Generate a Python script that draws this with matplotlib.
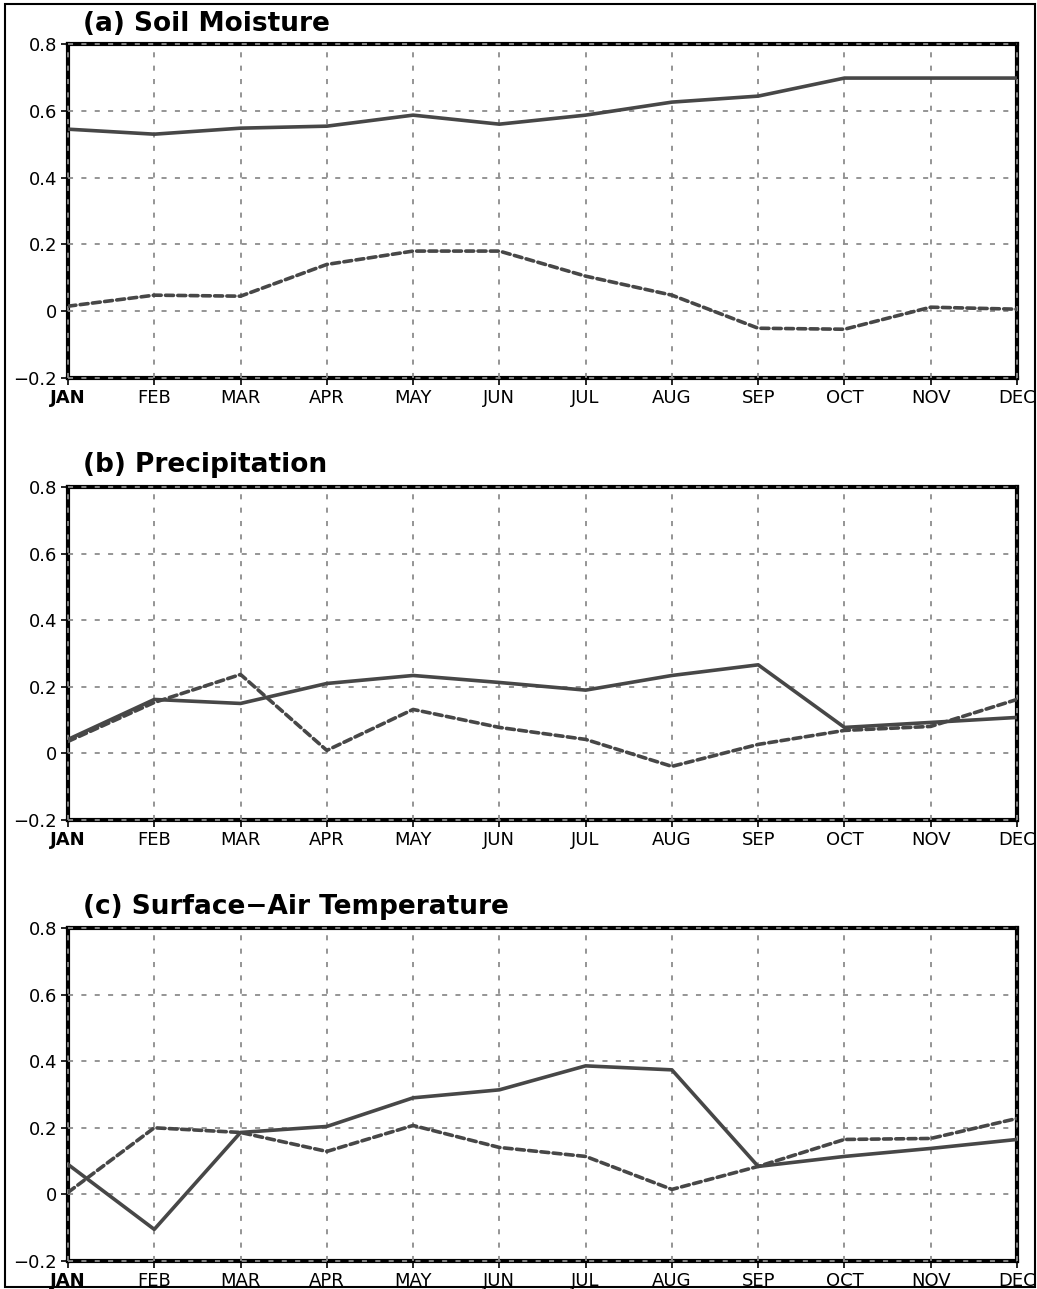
import matplotlib
matplotlib.use("Agg")
import matplotlib.pyplot as plt
from matplotlib.patches import Rectangle

months = ["JAN", "FEB", "MAR", "APR", "MAY", "JUN", "JUL", "AUG", "SEP", "OCT", "NOV", "DEC"]
yticks = [-0.2, 0, 0.2, 0.4, 0.6, 0.8]
ytick_labels = ["\u22120.2", "0", "0.2", "0.4", "0.6", "0.8"]

titles = ["(a) Soil Moisture", "(b) Precipitation", "(c) Surface\u2212Air Temperature"]

soil_solid = [0.545, 0.530, 0.548, 0.554, 0.587, 0.560, 0.587, 0.626, 0.644, 0.698, 0.698, 0.698]
soil_dash = [0.015, 0.048, 0.045, 0.140, 0.180, 0.180, 0.105, 0.048, -0.051, -0.054, 0.012, 0.006]

prec_solid = [0.042, 0.162, 0.150, 0.210, 0.234, 0.213, 0.190, 0.234, 0.266, 0.078, 0.093, 0.108]
prec_dash = [0.036, 0.153, 0.237, 0.009, 0.132, 0.078, 0.042, -0.039, 0.027, 0.069, 0.081, 0.162]

tas_solid = [0.090, -0.105, 0.186, 0.204, 0.290, 0.314, 0.386, 0.374, 0.084, 0.114, 0.138, 0.165]
tas_dash = [0.006, 0.200, 0.186, 0.129, 0.207, 0.141, 0.114, 0.015, 0.084, 0.165, 0.168, 0.228]

solids = [soil_solid, prec_solid, tas_solid]
dashes = [soil_dash, prec_dash, tas_dash]

W, H = 1037, 1289
fig = plt.figure(figsize=(W / 100, H / 100), dpi=100)

# outer border
fig.patches.append(Rectangle((5 / W, 2 / H), 1030 / W, 1283 / H, transform=fig.transFigure,
                             fill=False, edgecolor="black", linewidth=1.5))

panels = [(44, 378), (487, 820), (928, 1261)]
title_y = [24, 465, 907]
left, right = 68, 1017
line_col = "#474747"
grid_col = "#8c8c8c"

x = list(range(len(months)))
for i, (top, bot) in enumerate(panels):
    ax = fig.add_axes([left / W, 1 - bot / H, (right - left) / W, (bot - top) / H])
    ax.set_xlim(0, 11)
    ax.set_ylim(-0.2, 0.8)
    for s in ax.spines.values():
        s.set_linewidth(3)
        s.set_color("black")
        s.set_zorder(2)
    ax.set_xticks(x)
    ax.set_xticklabels(months, fontsize=13)
    ax.get_xticklabels()[0].set_fontweight("bold")
    ax.set_yticks(yticks)
    ax.set_yticklabels(ytick_labels, fontsize=13)
    ax.tick_params(direction="out", length=5, width=1.2, pad=3)
    for xv in x:
        ax.axvline(xv, color=grid_col, linestyle=(0, (2.8, 4.6)), linewidth=1.3, zorder=3, clip_on=False)
    for yv in yticks:
        ax.axhline(yv, color=grid_col, linestyle=(0, (2.8, 4.6)), linewidth=1.3, zorder=3, clip_on=False)
    ax.plot(x, solids[i], color=line_col, linewidth=2.6, zorder=4, solid_joinstyle="round")
    ax.plot(x, dashes[i], color=line_col, linewidth=2.6, zorder=4, linestyle=(0, (2.2, 1.2)),
            dash_capstyle="round")
    fig.text(83 / W, 1 - title_y[i] / H, titles[i], fontsize=19, fontweight="bold",
             ha="left", va="center")

fig.savefig("out.png", dpi=100)
